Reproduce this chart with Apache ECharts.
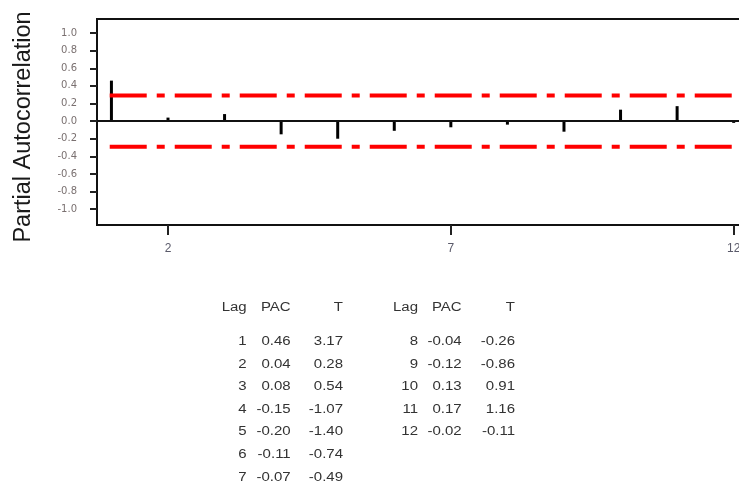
<!DOCTYPE html>
<html>
<head>
<meta charset="utf-8">
<script src="https://cdn.jsdelivr.net/npm/echarts@6/dist/echarts.min.js"></script>
<style>
  html, body { margin: 0; padding: 0; background: #fff; }
  #main { width: 739px; height: 486px; }
</style>
</head>
<body>
<div id="main"></div>
<script>
// PACF values and t statistics by lag
var lags = [1, 2, 3, 4, 5, 6, 7, 8, 9, 10, 11, 12];
var pac = [0.46, 0.04, 0.08, -0.15, -0.20, -0.11, -0.07, -0.04, -0.12, 0.13, 0.17, -0.02];
var tStat = [3.17, 0.28, 0.54, -1.07, -1.40, -0.74, -0.49, -0.26, -0.86, 0.91, 1.16, -0.11];
var bound = 0.29;  // significance limits (+/-)
var xTicks = [2, 7, 12];
var yTicks = [-1.0, -0.8, -0.6, -0.4, -0.2, 0.0, 0.2, 0.4, 0.6, 0.8, 1.0];

var chartDom = document.getElementById('main');
var myChart = echarts.init(chartDom);

var xMin = 0.745, xMax = 12.2;
var dashDot = [37, 10, 8, 10];

// table drawn as text; lags 1-7 on the left, 8-12 on the right
var tableFont = { fontSize: 12.5, fontFamily: '"Liberation Sans", Arial, sans-serif' };
var colsLeft = [246.7, 290.7, 343];
var colsRight = [418, 461.7, 515];
var headerY = 308, rowY0 = 341.5, rowStep = 22.6;

function cell(x, y, txt) {
    return {
        type: 'text',
        x: x,
        y: y,
        scaleX: 1.2,
        silent: true,
        style: {
            text: txt,
            align: 'right',
            verticalAlign: 'middle',
            fontSize: tableFont.fontSize,
            fontFamily: tableFont.fontFamily,
            fill: '#333'
        }
    };
}

var graphics = [{
    type: 'text',
    x: 24,
    y: 127,
    rotation: Math.PI / 2,
    silent: true,
    style: {
        text: 'Partial Autocorrelation',
        align: 'center',
        verticalAlign: 'middle',
        fontSize: 23.5,
        fontFamily: '"Liberation Sans", Arial, sans-serif',
        fill: '#1a1a1a'
    }
}];
[colsLeft, colsRight].forEach(function (cols) {
    graphics.push(cell(cols[0], headerY, 'Lag'));
    graphics.push(cell(cols[1], headerY, 'PAC'));
    graphics.push(cell(cols[2], headerY, 'T'));
});
lags.forEach(function (lag, i) {
    var cols = i < 7 ? colsLeft : colsRight;
    var row = i < 7 ? i : i - 7;
    var y = rowY0 + row * rowStep;
    graphics.push(cell(cols[0], y, String(lag)));
    graphics.push(cell(cols[1], y, pac[i].toFixed(2)));
    graphics.push(cell(cols[2], y, tStat[i].toFixed(2)));
});

var option = {
    animation: false,
    grid: {
        left: 97,
        top: 19,
        width: 648,
        height: 206,
        outerBoundsMode: 'none',
        containLabel: false,
        show: true,
        borderColor: '#111',
        borderWidth: 2,
        backgroundColor: 'transparent'
    },
    xAxis: {
        type: 'value',
        min: xMin,
        max: xMax,
        splitLine: { show: false },
        axisLine: { show: false, onZero: false },
        axisTick: {
            show: true,
            customValues: xTicks,
            length: 10,
            lineStyle: { color: '#222', width: 2 }
        },
        axisLabel: {
            customValues: xTicks,
            margin: 18,
            fontSize: 12,
            fontFamily: '"Liberation Sans", Arial, sans-serif',
            color: '#5a5a6a'
        }
    },
    yAxis: {
        type: 'value',
        min: -1.18,
        max: 1.16,
        splitLine: { show: false },
        axisLine: { show: false },
        axisTick: {
            show: true,
            customValues: yTicks,
            length: 7,
            lineStyle: { color: '#222', width: 2 }
        },
        axisLabel: {
            customValues: yTicks,
            margin: 20,
            fontSize: 10,
            fontFamily: '"DejaVu Sans", sans-serif',
            color: '#7a7070',
            formatter: function (v) { return v.toFixed(1); }
        }
    },
    series: [
        {
            type: 'bar',
            barWidth: 3,
            itemStyle: { color: '#000' },
            data: lags.map(function (l, i) { return [l, pac[i]]; }),
            markLine: {
                silent: true,
                symbol: 'none',
                label: { show: false },
                lineStyle: { color: '#111', width: 2, type: 'solid' },
                data: [{ yAxis: 0 }]
            }
        },
        {
            type: 'line',
            symbol: 'none',
            silent: true,
            lineStyle: { color: '#ff0000', width: 4, type: dashDot, cap: 'butt' },
            data: [[0.97, bound], [xMax, bound]]
        },
        {
            type: 'line',
            symbol: 'none',
            silent: true,
            lineStyle: { color: '#ff0000', width: 4, type: dashDot, cap: 'butt' },
            data: [[0.97, -bound], [xMax, -bound]]
        }
    ],
    graphic: graphics
};

option && myChart.setOption(option);
</script>
</body>
</html>
